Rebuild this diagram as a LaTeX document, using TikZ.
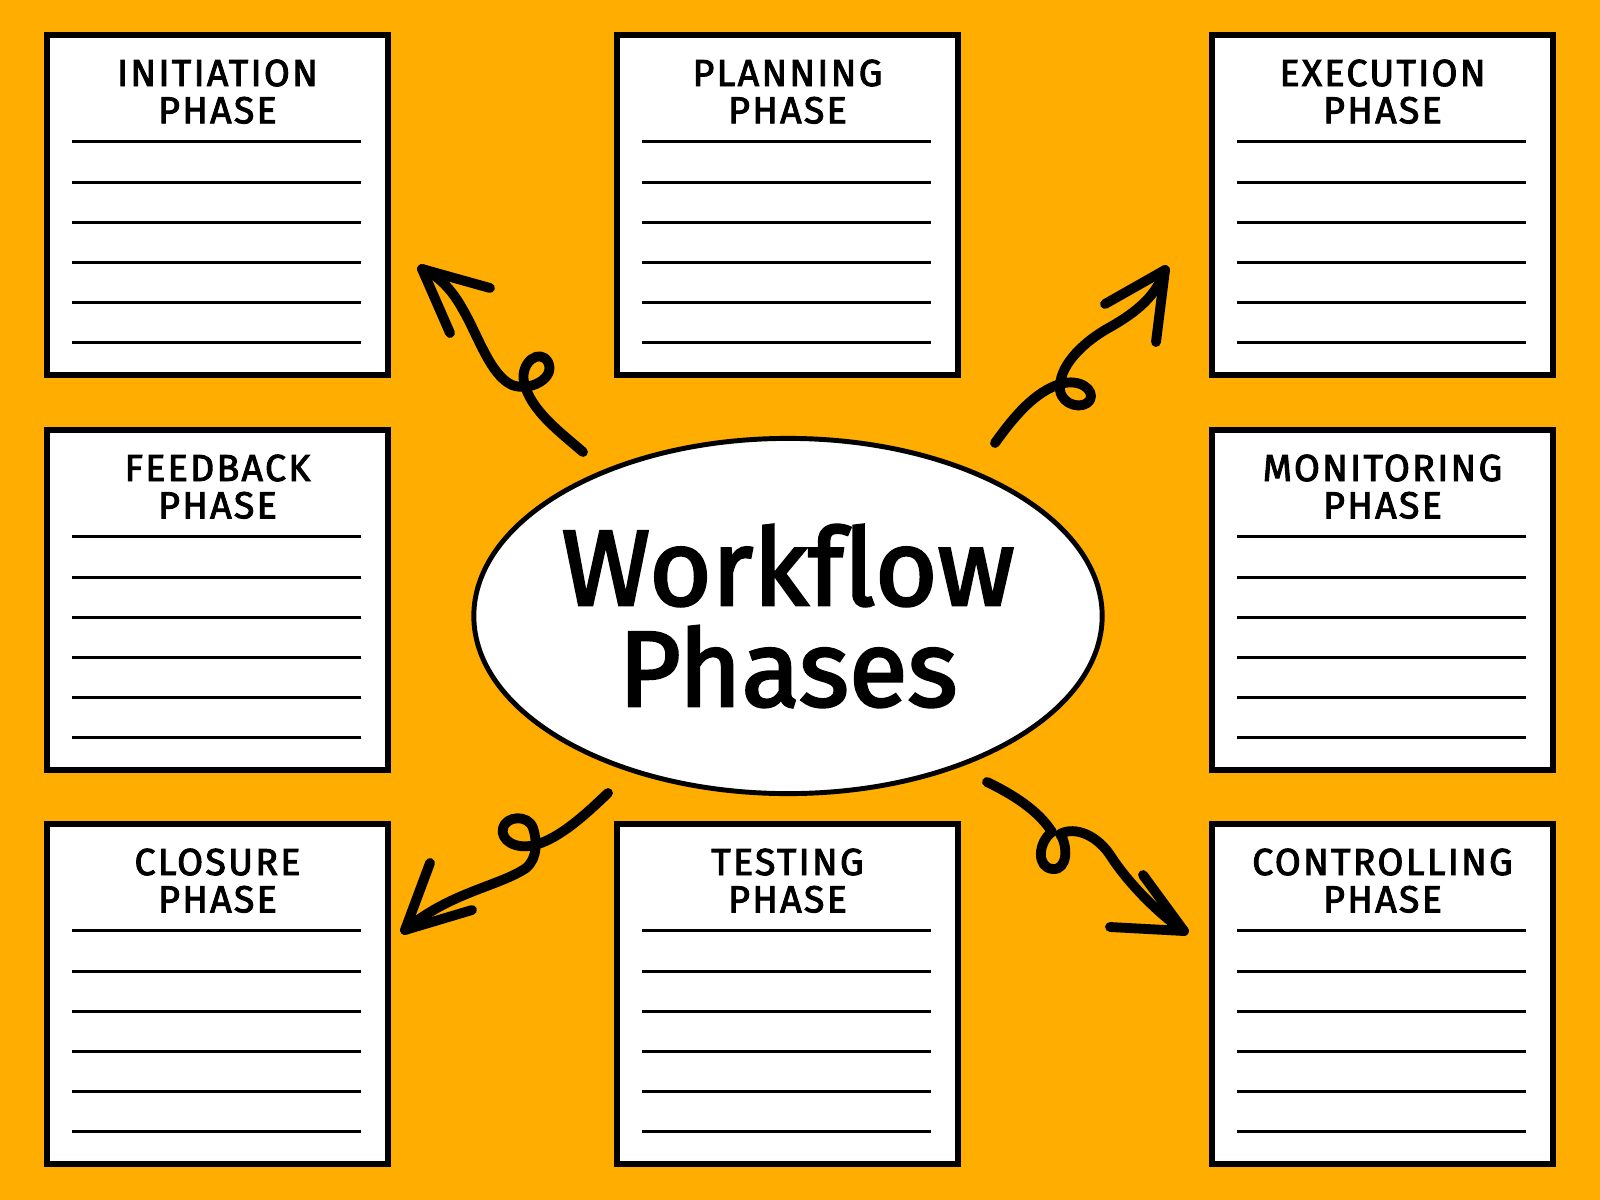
\documentclass[tikz,border=0pt]{standalone}
\usepackage{fontspec}
\setmainfont{Fira Sans}
\usetikzlibrary{shapes.geometric, positioning}

\definecolor{bgorange}{RGB}{255,173,0}

\tikzset{
  sheet/.style={draw, line width=1.6pt, fill=white, inner sep=0pt, outer sep=0pt, minimum width=3.41cm, minimum height=3.40cm},
  heading/.style={align=center, inner sep=0pt, font=\fontsize{10.7}{10.6}\selectfont\addfontfeatures{LetterSpace=6, FakeBold=2.5}},
  rule/.style={line width=0.85pt},
  hub/.style={ellipse, draw, line width=1.4pt, fill=white, inner sep=0pt, minimum width=6.28cm, minimum height=3.55cm},
  title/.style={align=center, inner sep=0pt, font=\fontsize{30.5}{28.7}\selectfont\addfontfeatures{Ligatures=NoCommon, FakeBold=2.5}},
  squiggle/.style={line width=2.8pt, line cap=round, line join=round}
}

\begin{document}
\begin{tikzpicture}[x=0.01cm, y=-0.01cm]

% Background
\fill[bgorange] ( 0, 0 ) rectangle ( 1600, 1200 );
\useasboundingbox ( 0, 0 ) rectangle ( 1600, 1200 );

% Sheets
\node[sheet] (init) at ( 217.5, 205 ) {};
\node[sheet] (plan) at ( 787.5, 205 ) {};
\node[sheet] (exec) at ( 1382.5, 205 ) {};
\node[sheet] (feed) at ( 217.5, 600 ) {};
\node[sheet] (mon) at ( 1382.5, 600 ) {};
\node[sheet] (close) at ( 217.5, 994 ) {};
\node[sheet] (test) at ( 787.5, 994 ) {};
\node[sheet] (ctrl) at ( 1382.5, 994 ) {};

\node[heading, below=0.24cm of init.north] (initT) {INITIATION\\PHASE};
\node[heading, below=0.24cm of plan.north] (planT) {PLANNING\\PHASE};
\node[heading, below=0.24cm of exec.north] (execT) {EXECUTION\\PHASE};
\node[heading, below=0.24cm of feed.north] (feedT) {FEEDBACK\\PHASE};
\node[heading, below=0.24cm of mon.north] (monT) {MONITORING\\PHASE};
\node[heading, below=0.24cm of close.north] (closeT) {CLOSURE\\PHASE};
\node[heading, below=0.24cm of test.north] (testT) {TESTING\\PHASE};
\node[heading, below=0.24cm of ctrl.north] (ctrlT) {CONTROLLING\\PHASE};

% Ruled lines
\foreach \b in {init, plan, exec, feed, mon, close, test, ctrl}
  \foreach \k in {0, ..., 5}
    \draw[rule] (\b.north west) ++( 25, {107 + 40.2*\k} ) -- ++( 289, 0 );

% Centre
\node[hub] (hub) at ( 788, 616 ) {};
\node[title] (hubT) at (hub.center) {Workf\kern0pt low\\Phases};

% Arrow to initiation
\coordinate (s1) at ( 583, 452 );
\coordinate (t1) at ( 422, 269 );
\draw[squiggle] (s1) .. controls ( 560, 432 ) and ( 530, 410 ) .. ( 524, 382 ) .. controls ( 520, 362 ) and ( 540, 348 ) .. ( 548, 362 ) .. controls ( 556, 378 ) and ( 530, 392 ) .. ( 512, 385 ) .. controls ( 490, 375 ) and ( 478, 335 ) .. ( 462, 308 ) .. controls ( 452, 290 ) and ( 438, 275 ) .. (t1);
\draw[squiggle] ( 490, 288 ) -- (t1) -- ( 450, 333 );

% Arrow to execution
\coordinate (s2) at ( 995, 443 );
\coordinate (t2) at ( 1165, 270 );
\draw[squiggle] (s2) .. controls ( 1015, 415 ) and ( 1035, 392 ) .. ( 1060, 384 ) .. controls ( 1080, 378 ) and ( 1095, 390 ) .. ( 1090, 400 ) .. controls ( 1084, 410 ) and ( 1062, 406 ) .. ( 1060, 390 ) .. controls ( 1058, 368 ) and ( 1080, 345 ) .. ( 1105, 330 ) .. controls ( 1130, 316 ) and ( 1155, 300 ) .. (t2);
\draw[squiggle] ( 1105, 304 ) -- (t2) -- ( 1156, 342 );

% Arrow to closure
\coordinate (s3) at ( 608, 793 );
\coordinate (t3) at ( 405, 930 );
\draw[squiggle] (s3) .. controls ( 585, 815 ) and ( 560, 838 ) .. ( 535, 845 ) .. controls ( 515, 850 ) and ( 500, 840 ) .. ( 503, 828 ) .. controls ( 506, 816 ) and ( 528, 814 ) .. ( 533, 828 ) .. controls ( 537, 840 ) and ( 538, 858 ) .. ( 526, 868 ) .. controls ( 500, 886 ) and ( 450, 892 ) .. (t3);
\draw[squiggle] ( 430, 863 ) -- (t3) -- ( 472, 910 );

% Arrow to controlling
\coordinate (s4) at ( 987, 782 );
\coordinate (t4) at ( 1184, 931 );
\draw[squiggle] (s4) .. controls ( 1012, 794 ) and ( 1038, 810 ) .. ( 1052, 832 ) .. controls ( 1038, 842 ) and ( 1036, 868 ) .. ( 1053, 869 ) .. controls ( 1068, 870 ) and ( 1068, 845 ) .. ( 1060, 834 ) .. controls ( 1075, 826 ) and ( 1098, 835 ) .. ( 1112, 858 ) .. controls ( 1130, 885 ) and ( 1160, 915 ) .. (t4);
\draw[squiggle] ( 1143, 875 ) -- (t4) -- ( 1110, 927 );

\end{tikzpicture}
\end{document}
